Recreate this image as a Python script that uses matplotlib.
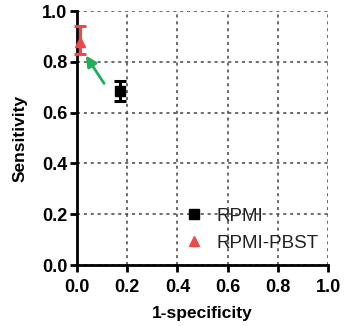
import matplotlib
matplotlib.use('Agg')
import matplotlib.pyplot as plt
from matplotlib.lines import Line2D

plt.rcParams['font.family'] = ['Liberation Sans', 'DejaVu Sans']

# ROC points (1-specificity, sensitivity) with error bars
groups = ['RPMI', 'RPMI-PBST']
fpr = [0.172, 0.012]
sens = [0.685, 0.878]
sens_lo = [0.646, 0.83]
sens_hi = [0.724, 0.94]
colors = ['black', '#f04848']
markers = ['s', '^']

fig = plt.figure(figsize=(3.46, 3.26), dpi=100)
ax = fig.add_axes([0.2225, 0.187, 0.7255, 0.779])

for g, x, y, lo, hi, c, m in zip(groups, fpr, sens, sens_lo, sens_hi, colors, markers):
    ax.errorbar(x, y, yerr=[[y - lo], [hi - y]], fmt=m, color=c, ms=6.5,
                elinewidth=2.2, capsize=4, capthick=2.2, clip_on=False, zorder=5)

# arrow pointing to the RPMI-PBST point
ax.annotate('', xy=(0.035, 0.825), xytext=(0.108, 0.715),
            arrowprops=dict(arrowstyle='-|>', color='#1db056', lw=2,
                            mutation_scale=16, shrinkA=0, shrinkB=0))

ax.set_xlim(0, 1)
ax.set_ylim(0, 1)
ticks = [0.0, 0.2, 0.4, 0.6, 0.8, 1.0]
ax.set_xticks(ticks)
ax.set_yticks(ticks)
ax.set_xticklabels([f'{t:.1f}' for t in ticks], fontweight='bold', fontsize=13)
ax.set_yticklabels([f'{t:.1f}' for t in ticks], fontweight='bold', fontsize=13)
ax.grid(True, linestyle=(0, (2, 2.5)), color='#444444', linewidth=1.1)
ax.set_axisbelow(True)
for s in ['top', 'right']:
    ax.spines[s].set_visible(False)
for s in ['left', 'bottom']:
    ax.spines[s].set_linewidth(2)
ax.tick_params(width=2, length=5)
ax.tick_params(axis='x', pad=5)
ax.tick_params(axis='y', pad=2)

ax.set_xlabel('1-specificity', fontweight='bold', fontsize=12.5, labelpad=7)
ax.set_ylabel('Sensitivity', fontweight='bold', fontsize=12.5, labelpad=10)

handles = [Line2D([], [], marker=m, color=c, linestyle='none', markersize=7)
           for m, c in zip(markers, colors)]
ax.legend(handles, groups, loc='lower right', frameon=False, fontsize=13.5,
          handletextpad=0.2, labelspacing=0.55, labelcolor='#222222',
          bbox_to_anchor=(1.03, -0.015))

fig.savefig('out.png', dpi=100)
